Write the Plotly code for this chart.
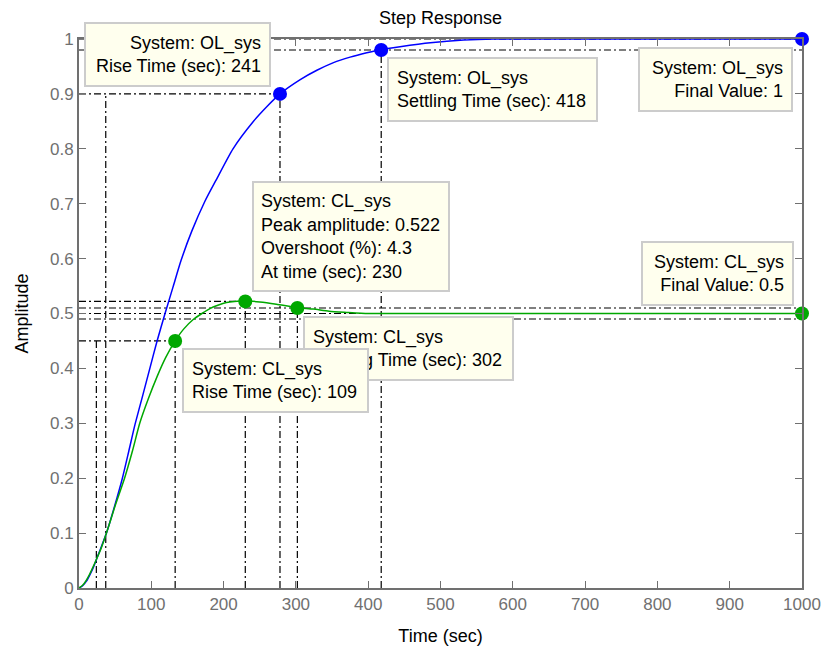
import plotly.graph_objects as go

# ---------------- data ----------------
ol_t = [0, 5, 10, 15, 20, 25, 30, 38, 49, 60, 69, 77.5, 88, 98, 108, 119, 130, 141, 156,
        174, 190, 213, 240, 260, 278, 306, 329, 352, 375, 398, 418, 444, 486, 532, 573, 650, 800, 1000]
ol_y = [0, 0.004, 0.012, 0.024, 0.038, 0.055, 0.072, 0.1, 0.148, 0.2, 0.25, 0.298, 0.35, 0.4, 0.45, 0.5, 0.548, 0.596, 0.65,
        0.704, 0.744, 0.8, 0.848, 0.877, 0.9, 0.926, 0.943, 0.957, 0.967, 0.975, 0.981, 0.986, 0.993, 0.998, 1.0, 1.0, 1.0, 1.0]

cl_t = [0, 5, 10, 15, 20, 24, 30, 38, 50, 63, 74, 84, 96, 108, 120, 133, 145, 158, 170, 181,
        192, 204, 215, 230, 250, 273, 301, 324, 346, 370, 400, 450, 600, 800, 1000]
cl_y = [0, 0.005, 0.014, 0.026, 0.04, 0.052, 0.07, 0.1, 0.15, 0.2, 0.25, 0.3, 0.345, 0.385, 0.42, 0.45, 0.472, 0.489, 0.5, 0.509,
        0.515, 0.52, 0.522, 0.523, 0.521, 0.517, 0.511, 0.508, 0.504, 0.502, 0.5, 0.5, 0.5, 0.5, 0.5]

# characteristic points (markers)
ol_mark_t = [278, 418, 1000]
ol_mark_y = [0.9, 0.98, 1.0]
cl_mark_t = [133, 230, 302, 1000]
cl_mark_y = [0.45, 0.522, 0.51, 0.5]

# characteristics
ol_rise_start, ol_rise_end, ol_rise_level = 37, 278, 0.9
ol_settle_t, ol_settle_band = 418, [0.98]
ol_final = 1.0
cl_rise_start, cl_rise_end, cl_rise_level = 24, 133, 0.45
cl_peak_t, cl_peak_y = 230, 0.522
cl_settle_t, cl_settle_band = 302, [0.51, 0.49]
cl_final = 0.5

x_ticks = list(range(0, 1001, 100))
y_ticks = [i / 10 for i in range(11)]
y_tick_labels = ["0"] + [f"{v:.1f}" for v in y_ticks[1:-1]] + ["1"]

# datatips: (text, x-left [paper], y-top [paper], align, width, height)
tips = [
    ("System: OL_sys<br>Rise Time (sec): 241", 0.0069, 1.0315, "right", 167, 45),
    ("System: OL_sys<br>Settling Time (sec): 418", 0.4256, 0.9666, "left", 191, 45),
    ("System: OL_sys<br>Final Value: 1", 0.7732, 0.9849, "right", 135, 45),
    ("System: CL_sys<br>Peak amplitude: 0.522<br>Overshoot (%): 4.3<br>At time (sec): 230", 0.2393, 0.7418, "left", 180, 93),
    ("System: CL_sys<br>Final Value: 0.5", 0.7769, 0.6324, "right", 133, 45),
    ("System: CL_sys<br>Settling Time (sec): 302", 0.3094, 0.4957, "left", 191, 45),
    ("System: CL_sys<br>Rise Time (sec): 109", 0.1420, 0.4363, "left", 167, 45),
]

BLUE = "rgb(0,0,255)"
GREEN = "rgb(0,168,0)"
FONT = "Liberation Sans, Arial, sans-serif"
AXIS_GRAY = "#707070"
DASH = "7px,3px,2px,3px"

fig = go.Figure()
fig.add_trace(go.Scatter(x=ol_t, y=ol_y, mode="lines", line=dict(color=BLUE, width=1.5, shape="spline", smoothing=0.6),
                         showlegend=False))
fig.add_trace(go.Scatter(x=cl_t, y=cl_y, mode="lines", line=dict(color=GREEN, width=1.5, shape="spline", smoothing=0.6),
                         showlegend=False))
fig.add_trace(go.Scatter(x=ol_mark_t, y=ol_mark_y, mode="markers", marker=dict(color=BLUE, size=14),
                         cliponaxis=False, showlegend=False))
fig.add_trace(go.Scatter(x=cl_mark_t, y=cl_mark_y, mode="markers", marker=dict(color=GREEN, size=14),
                         cliponaxis=False, showlegend=False))


def seg(x0, y0, x1, y1):
    fig.add_shape(type="line", xref="x", yref="y", x0=x0, y0=y0, x1=x1, y1=y1,
                  line=dict(color="black", width=1.2, dash=DASH), layer="below")


# OL rise time
seg(0, ol_rise_level, ol_rise_end, ol_rise_level)
seg(ol_rise_start, 0, ol_rise_start, ol_rise_level)
seg(ol_rise_end, 0, ol_rise_end, ol_rise_level)
# OL settling
for b in ol_settle_band:
    seg(0, b, 1000, b)
seg(ol_settle_t, 0, ol_settle_t, ol_settle_band[0])
# OL final value
seg(0, ol_final, 1000, ol_final)
# CL rise time
seg(0, cl_rise_level, cl_rise_end, cl_rise_level)
seg(cl_rise_start, 0, cl_rise_start, cl_rise_level)
seg(cl_rise_end, 0, cl_rise_end, cl_rise_level)
# CL peak
seg(0, cl_peak_y, cl_peak_t, cl_peak_y)
seg(cl_peak_t, 0, cl_peak_t, cl_peak_y)
# CL settling
for b in cl_settle_band:
    seg(0, b, 1000, b)
seg(cl_settle_t, 0, cl_settle_t, cl_settle_band[0])
# CL final value
seg(0, cl_final, 1000, cl_final)

for text, x, y, align, w, h in tips:
    fig.add_annotation(text=text, x=x, y=y, xref="paper", yref="paper", xanchor="left", yanchor="top",
                       showarrow=False, align=align, width=w, height=h,
                       bgcolor="rgb(255,255,238)", bordercolor="rgb(204,204,204)",
                       borderwidth=2, borderpad=7 if w == 180 else 8,
                       font=dict(family=FONT, size=18, color="black"))

axis_common = dict(showline=True, linecolor=AXIS_GRAY, linewidth=2, mirror="ticks",
                   ticks="inside", ticklen=7, tickwidth=1, tickcolor=AXIS_GRAY,
                   showgrid=False, zeroline=False, automargin=False,
                   tickfont=dict(family=FONT, size=17, color=AXIS_GRAY))

fig.update_xaxes(range=[0, 1000], tickvals=x_ticks, ticktext=[str(v) for v in x_ticks],
                 title=dict(text="Time (sec)", font=dict(family=FONT, size=18, color="black"), standoff=16),
                 **axis_common)
fig.update_yaxes(range=[0, 1], tickvals=y_ticks, ticktext=y_tick_labels,
                 title=dict(text="Amplitude", font=dict(family=FONT, size=18, color="black"), standoff=17),
                 **axis_common)

fig.update_layout(
    width=825, height=652,
    margin=dict(l=79, r=23, t=39, b=64),
    paper_bgcolor="white", plot_bgcolor="white",
    title=dict(text="Step Response", x=0.5, xref="paper", y=1 - 18 / 652, yref="container",
               xanchor="center", yanchor="middle",
               font=dict(family=FONT, size=18, color="black")),
    showlegend=False,
)

fig.write_html("out.html")
